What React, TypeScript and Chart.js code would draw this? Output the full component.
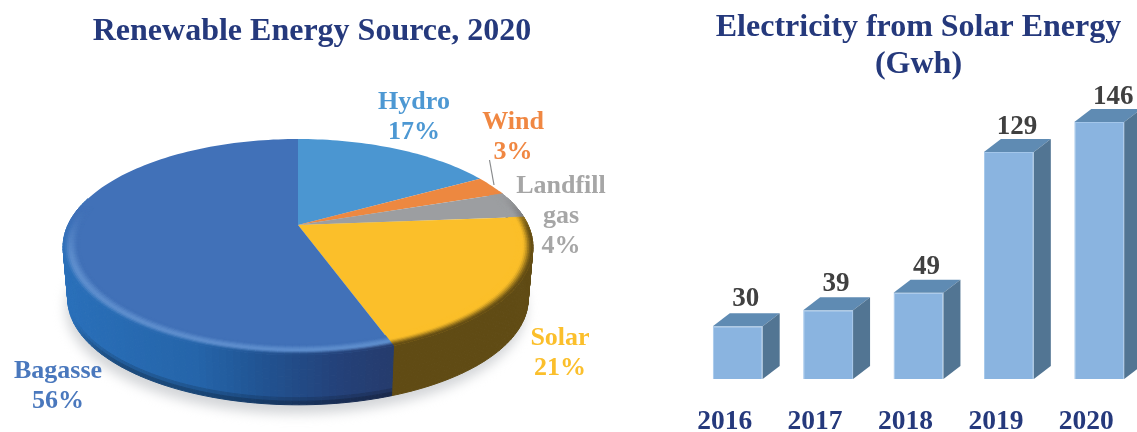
import React, { useEffect, useRef } from "react";
import { Chart, registerables } from "chart.js";

Chart.register(...registerables);

// Renewable energy mix, clockwise from twelve o'clock
const sources = ["Hydro", "Wind", "Landfill gas", "Solar", "Bagasse"];
const shares = [17, 3, 4, 21, 56];
const sourceLabelLines = [["Hydro"], ["Wind"], ["Landfill", "gas"], ["Solar"], ["Bagasse"]];

// Solar generation by year (GWh)
const years = ["2016", "2017", "2018", "2019", "2020"];
const solarGwh = [30, 39, 49, 129, 146];

const SERIF = "'Liberation Serif', 'Times New Roman', serif";
const NAVY = "#25397c";

const faceColors = ["#4b96d1", "#ed8840", "#9c9ea1", "#fbbf2a", "#4171b8"];
const labelColors = ["#4d98d3", "#f08742", "#a6a6a6", "#fbbf2b", "#4a78bd"];
const sideColors = ["#2f6187", "#8f5226", "#5e6062", "#604b14", "#2a6cb8"];
const bevelColors = ["#4b96d1", "#ed8840", "#6d6e70", "#604b14", "#5f8fce"];
const labelAnchors = [
  [414, 102],
  [513, 122],
  [561, 186],
  [560, 338],
  [58, 371],
];
const LABEL_LINE_GAP = 30;

// Value label nudges above each bar, in pixels
const valueLabelDx = [8, 8, 8, 8, 14];
const valueLabelDy = [27, 26, 26, 25, 25];

// Tilted-disc projection of the pie
const PIE_SHIFT_X = -14;
const PERSPECTIVE = 0.2037;
const DEPTH_Y_SCALE = 103.5;
const RIM_DEPTH = 52;
const RIM_SHRINK = 0.02;
const ELLIPSE_MID_Y = 247;

type Rgb = [number, number, number];
const hex = (c: string): Rgb => [
  parseInt(c.slice(1, 3), 16),
  parseInt(c.slice(3, 5), 16),
  parseInt(c.slice(5, 7), 16),
];
const mix = (a: Rgb, b: Rgb, t: number): Rgb => [
  a[0] + (b[0] - a[0]) * t,
  a[1] + (b[1] - a[1]) * t,
  a[2] + (b[2] - a[2]) * t,
];
const css = (c: Rgb) => `rgb(${c[0] | 0},${c[1] | 0},${c[2] | 0})`;
const smooth = (a: number, b: number, x: number) => {
  const t = Math.min(1, Math.max(0, (x - a) / (b - a)));
  return t * t * (3 - 2 * t);
};

// Colour ramp along the front wall of the largest slice
const wallRamp = (x: number): Rgb => {
  const stops: [number, Rgb][] = [
    [63, [42, 112, 186]],
    [200, [37, 101, 170]],
    [255, [33, 86, 150]],
    [340, [36, 66, 122]],
    [395, [38, 60, 110]],
  ];
  for (let i = 1; i < stops.length; i++) {
    if (x <= stops[i][0]) {
      const t = Math.max(0, (x - stops[i - 1][0]) / (stops[i][0] - stops[i - 1][0]));
      return mix(stops[i - 1][1], stops[i][1], t);
    }
  }
  return stops[stops.length - 1][1];
};

const tiltedPie = {
  id: "tiltedPie",
  beforeDatasetDraw(chart: any) {
    const ctx: CanvasRenderingContext2D = chart.ctx;
    const arcs = chart.getDatasetMeta(0).data as any[];
    const cx = arcs[0].x + PIE_SHIFT_X;
    const cy = arcs[0].y;
    const R = arcs[0].outerRadius;

    const project = (angle: number, r: number, depth: number): [number, number] => {
      const u = r * Math.cos(angle);
      const v = r * Math.sin(angle);
      const s = 1 / (1 - PERSPECTIVE * v);
      const x = cx + R * u * s * (1 - RIM_SHRINK * depth);
      const y0 = cy + DEPTH_Y_SCALE * v * s;
      const y = ELLIPSE_MID_Y + (y0 - ELLIPSE_MID_Y) * (1 - RIM_SHRINK * depth) + RIM_DEPTH * depth;
      return [x, y];
    };
    const quad = (p: [number, number][], color: string, lw = 0.8) => {
      ctx.beginPath();
      p.forEach((q, i) => (i ? ctx.lineTo(q[0], q[1]) : ctx.moveTo(q[0], q[1])));
      ctx.closePath();
      ctx.fillStyle = color;
      ctx.strokeStyle = color;
      ctx.lineWidth = lw;
      ctx.fill();
      ctx.stroke();
    };

    ctx.save();

    // Soft ground shadow
    ctx.save();
    ctx.filter = "blur(6px)";
    ctx.beginPath();
    for (let i = 0; i <= 180; i++) {
      const p = project((i / 180) * Math.PI * 2, 1, 1);
      ctx.lineTo(p[0] - 2, p[1] + 9);
    }
    ctx.closePath();
    ctx.fillStyle = "#d3d5d8";
    ctx.fill();
    ctx.restore();

    const STEP = Math.PI / 120;
    const walk = (a: any, fn: (a0: number, a1: number) => void) => {
      const n = Math.max(1, Math.ceil((a.endAngle - a.startAngle) / STEP));
      const d = (a.endAngle - a.startAngle) / n;
      for (let i = 0; i < n; i++) fn(a.startAngle + d * i, a.startAngle + d * (i + 1));
    };

    // Outer wall with a thin darker line along its front bottom edge
    const WALL_BANDS = 14;
    arcs.forEach((a, idx) => {
      walk(a, (a0, a1) => {
        if (Math.sin(a0) < -0.25 && Math.sin(a1) < -0.25) return;
        const front = smooth(0.35, 0.8, Math.sin(a0));
        for (let b = 0; b < WALL_BANDS; b++) {
          const t0 = b / WALL_BANDS;
          const t1 = (b + 1) / WALL_BANDS;
          const x = project(a0, 1, 0)[0];
          const base: Rgb = idx === 4 ? wallRamp(x) : hex(sideColors[idx]);
          const shade = idx === 4 ? 1 - 0.3 * front * smooth(0.86, 1, t1) : 1;
          quad(
            [project(a0, 1, t0), project(a1, 1, t0), project(a1, 1, t1), project(a0, 1, t1)],
            css([base[0] * shade, base[1] * shade, base[2] * shade]),
            1,
          );
        }
      });
    });

    // Top face
    arcs.forEach((a, idx) => {
      ctx.beginPath();
      const c = project(0, 0, 0);
      ctx.moveTo(c[0], c[1]);
      walk(a, (a0) => {
        const p = project(a0, 1, 0);
        ctx.lineTo(p[0], p[1]);
      });
      const e = project(a.endAngle, 1, 0);
      ctx.lineTo(e[0], e[1]);
      ctx.closePath();
      ctx.fillStyle = faceColors[idx];
      ctx.fill();
    });

    // Rounded edge where the face turns into the wall
    const RINGS = 10;
    const INNER = 0.93;
    arcs.forEach((a, idx) => {
      const face = hex(faceColors[idx]);
      const bevel = hex(bevelColors[idx]);
      walk(a, (a0, a1) => {
        const sin = Math.sin((a0 + a1) / 2);
        const w = idx === 4 ? smooth(-0.2, 0.4, sin) : smooth(-0.35, 0.1, sin);
        if (w <= 0) return;
        for (let k = 0; k < RINGS; k++) {
          const r0 = INNER + ((1 - INNER) * k) / RINGS;
          const r1 = INNER + ((1 - INNER) * (k + 1)) / RINGS;
          const f = (r0 + r1 - 2 * INNER) / (2 * (1 - INNER));
          let col: Rgb;
          if (idx === 4) {
            const wall = wallRamp(project(a0, 1, 0)[0]);
            col = f < 0.6 ? mix(face, bevel, smooth(0.1, 0.6, f)) : mix(bevel, wall, smooth(0.6, 1, f));
          } else {
            col = mix(face, bevel, smooth(0.4, 1, f));
          }
          quad(
            [project(a0, r0, 0), project(a1, r0, 0), project(a1, r1, 0), project(a0, r1, 0)],
            css(mix(face, col, w)),
          );
        }
      });
    });
    ctx.restore();
    return false;
  },
  afterDatasetsDraw(chart: any) {
    const ctx: CanvasRenderingContext2D = chart.ctx;
    ctx.save();
    // Leader line for the small wind slice
    ctx.strokeStyle = "#8a8c8e";
    ctx.lineWidth = 1.2;
    ctx.beginPath();
    ctx.moveTo(489.5, 160);
    ctx.lineTo(494, 185);
    ctx.stroke();

    ctx.font = `bold 26px ${SERIF}`;
    ctx.textAlign = "center";
    ctx.textBaseline = "middle";
    sources.forEach((_, i) => {
      const lines = [...sourceLabelLines[i], `${shares[i]}%`];
      ctx.fillStyle = labelColors[i];
      lines.forEach((line, j) => {
        ctx.fillText(line, labelAnchors[i][0], labelAnchors[i][1] + j * LABEL_LINE_GAP);
      });
    });
    ctx.restore();
  },
};

const BAR_DEPTH_X = 17;
const BAR_DEPTH_Y = 13;

const extrudedBars = {
  id: "extrudedBars",
  afterDatasetsDraw(chart: any) {
    const ctx: CanvasRenderingContext2D = chart.ctx;
    const bars = chart.getDatasetMeta(0).data as any[];
    ctx.save();
    bars.forEach((bar, i) => {
      const hw = bar.width / 2;
      const l = bar.x - hw;
      const r = bar.x + hw;
      const top = bar.y;
      const base = bar.base;
      const poly = (pts: number[][], color: string) => {
        ctx.beginPath();
        pts.forEach((p, k) => (k ? ctx.lineTo(p[0], p[1]) : ctx.moveTo(p[0], p[1])));
        ctx.closePath();
        ctx.fillStyle = color;
        ctx.fill();
      };
      poly(
        [[l, top], [l + BAR_DEPTH_X, top - BAR_DEPTH_Y], [r + BAR_DEPTH_X, top - BAR_DEPTH_Y], [r, top]],
        "#5f8bb3",
      );
      poly(
        [[r, top], [r + BAR_DEPTH_X, top - BAR_DEPTH_Y], [r + BAR_DEPTH_X, base - BAR_DEPTH_Y], [r, base]],
        "#527593",
      );
      ctx.font = `bold 27px ${SERIF}`;
      ctx.textAlign = "center";
      ctx.textBaseline = "middle";
      ctx.fillStyle = "#404040";
      ctx.fillText(String(solarGwh[i]), bar.x + valueLabelDx[i], top - valueLabelDy[i]);
    });
    ctx.restore();
  },
};

export default function App() {
  const pieRef = useRef<HTMLCanvasElement>(null);
  const barRef = useRef<HTMLCanvasElement>(null);

  useEffect(() => {
    const pie = new Chart(pieRef.current!, {
      type: "pie",
      data: {
        labels: sources,
        datasets: [{ data: shares, backgroundColor: faceColors, borderWidth: 0 }],
      },
      options: {
        animation: false,
        responsive: false,
        devicePixelRatio: 1,
        radius: 230,
        layout: { padding: { bottom: 34.4 } },
        plugins: {
          legend: { display: false },
          tooltip: { enabled: false },
          title: {
            display: true,
            text: "Renewable Energy Source, 2020",
            color: NAVY,
            font: { family: SERIF, size: 32, weight: "bold" },
            padding: { top: 13, bottom: 1 },
          },
        },
      } as any,
      plugins: [tiltedPie],
    });

    const bar = new Chart(barRef.current!, {
      type: "bar",
      data: {
        labels: years,
        datasets: [
          {
            data: solarGwh,
            backgroundColor: "#8ab4e0",
            borderColor: "#a3c6ea",
            borderWidth: 1,
            barPercentage: 0.552,
            categoryPercentage: 1,
          },
        ],
      },
      options: {
        animation: false,
        responsive: false,
        devicePixelRatio: 1,
        scales: {
          x: {
            border: { display: false },
            grid: { display: false, drawTicks: false },
            ticks: {
              color: NAVY,
              padding: 26,
              labelOffset: -13,
              maxRotation: 0,
              autoSkip: false,
              font: { family: SERIF, size: 27.5, weight: "bold" },
            },
          },
          y: { display: false, min: 0, max: 162.8 },
        },
        plugins: {
          legend: { display: false },
          tooltip: { enabled: false },
          title: {
            display: true,
            text: ["Electricity from Solar Energy", "(Gwh)"],
            color: NAVY,
            font: { family: SERIF, size: 32, weight: "bold", lineHeight: 37 / 32 },
            padding: { top: 9, bottom: 9.5 },
          },
        },
      } as any,
      plugins: [extrudedBars],
    });

    return () => {
      pie.destroy();
      bar.destroy();
    };
  }, []);

  return (
    <div
      style={{
        position: "fixed",
        left: 0,
        top: 0,
        width: 1137,
        height: 432,
        overflow: "hidden",
        background: "#ffffff",
      }}
    >
      <canvas ref={pieRef} width={624} height={432} style={{ position: "absolute", left: 0, top: 0 }} />
      <canvas ref={barRef} width={467} height={464} style={{ position: "absolute", left: 685, top: 0 }} />
    </div>
  );
}
